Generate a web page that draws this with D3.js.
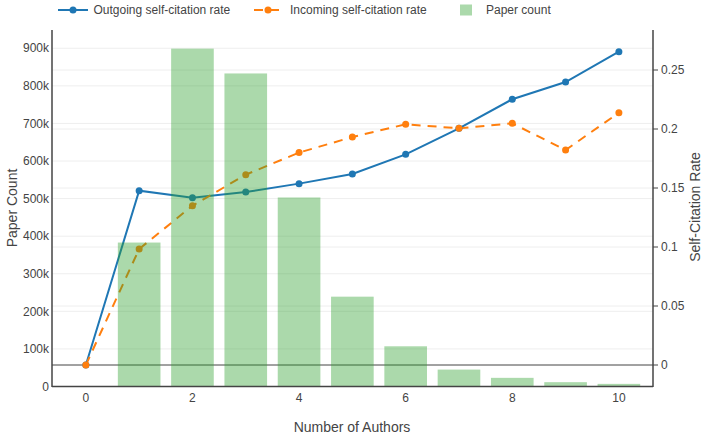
<!DOCTYPE html>
<html>
<head>
<meta charset="utf-8">
<script src="https://cdn.jsdelivr.net/npm/d3@7"></script>
<style>
  body { margin: 0; background: #fff; }
  svg { display: block; font-family: "Liberation Sans", Arial, sans-serif; }
</style>
</head>
<body>
<svg id="chart" width="702" height="439"></svg>
<script>
const authors = [0, 1, 2, 3, 4, 5, 6, 7, 8, 9, 10];
const paperCount = [0, 383000, 899000, 833000, 503000, 239000, 107000, 45000, 23000, 11500, 7000];
const outgoingRate = [0, 0.1477, 0.1418, 0.1466, 0.1537, 0.1619, 0.1785, 0.2006, 0.2252, 0.2398, 0.2655];
const incomingRate = [0, 0.0983, 0.135, 0.1613, 0.180, 0.1932, 0.204, 0.2006, 0.2048, 0.1822, 0.2138];
const xTicks = [0, 2, 4, 6, 8, 10];
const leftTicks = [0, 100000, 200000, 300000, 400000, 500000, 600000, 700000, 800000, 900000];
const leftTickLabels = ["0", "100k", "200k", "300k", "400k", "500k", "600k", "700k", "800k", "900k"];
const rightTicks = [0, 0.05, 0.1, 0.15, 0.2, 0.25];
const rightTickLabels = ["0", "0.05", "0.1", "0.15", "0.2", "0.25"];
const seriesNames = ["Outgoing self-citation rate", "Incoming self-citation rate", "Paper count"];

const svg = d3.select("#chart");
const L = 52, R = 653, T = 30, B = 386.5;
const textColor = "#444";

const x = d3.scaleLinear().domain([-0.635, 10.64]).range([L, R]);
const yL = d3.scaleLinear().domain([0, 948600]).range([B, T]);
const yR = d3.scaleLinear().domain([-0.01822, 0.2839]).range([B, T]);

// gridlines
const grid = svg.append("g");
grid.selectAll("line.gl").data(leftTicks.slice(1)).enter().append("line")
  .attr("x1", L).attr("x2", R)
  .attr("y1", d => yL(d)).attr("y2", d => yL(d))
  .attr("stroke", "#eee").attr("stroke-width", 1);
grid.selectAll("line.gr").data(rightTicks.slice(1)).enter().append("line")
  .attr("x1", L).attr("x2", R)
  .attr("y1", d => yR(d)).attr("y2", d => yR(d))
  .attr("stroke", "#eee").attr("stroke-width", 1);
// zero line of right axis
svg.append("line").attr("x1", L).attr("x2", R)
  .attr("y1", yR(0)).attr("y2", yR(0))
  .attr("stroke", "#444").attr("stroke-width", 1);

// lines
const lineOut = d3.line().x((d, i) => x(authors[i])).y(d => yR(d));
svg.append("path").datum(outgoingRate).attr("d", lineOut)
  .attr("fill", "none").attr("stroke", "#1f77b4").attr("stroke-width", 2);
svg.append("path").datum(incomingRate).attr("d", lineOut)
  .attr("fill", "none").attr("stroke", "#ff7f0e").attr("stroke-width", 2)
  .attr("stroke-dasharray", "9,7");
svg.append("g").selectAll("circle").data(outgoingRate).enter().append("circle")
  .attr("cx", (d, i) => x(authors[i])).attr("cy", d => yR(d)).attr("r", 3.5)
  .attr("fill", "#1f77b4");
svg.append("g").selectAll("circle").data(incomingRate).enter().append("circle")
  .attr("cx", (d, i) => x(authors[i])).attr("cy", d => yR(d)).attr("r", 3.5)
  .attr("fill", "#ff7f0e");

// bars (on top, translucent)
const bw = x(0.8) - x(0);
svg.append("g").selectAll("rect").data(paperCount).enter().append("rect")
  .attr("x", (d, i) => x(authors[i]) - bw / 2)
  .attr("width", bw)
  .attr("y", d => yL(d))
  .attr("height", d => B - yL(d))
  .attr("fill", "rgb(44,160,44)").attr("fill-opacity", 0.4);

// axes lines
svg.append("line").attr("x1", L).attr("x2", L).attr("y1", T).attr("y2", B + 0.5)
  .attr("stroke", "#444").attr("stroke-width", 1.5);
svg.append("line").attr("x1", R).attr("x2", R).attr("y1", T).attr("y2", B + 0.5)
  .attr("stroke", "#444").attr("stroke-width", 1.5);
svg.append("line").attr("x1", L).attr("x2", R).attr("y1", B).attr("y2", B)
  .attr("stroke", "#444").attr("stroke-width", 1.5);

// x tick labels
svg.append("g").selectAll("text").data(xTicks).enter().append("text")
  .attr("x", d => x(d)).attr("y", 402)
  .attr("text-anchor", "middle").attr("font-size", 12).attr("fill", textColor)
  .text(d => d);

// left tick labels
svg.append("g").selectAll("text").data(leftTicks).enter().append("text")
  .attr("x", 49).attr("y", d => yL(d) + 4.2)
  .attr("text-anchor", "end").attr("font-size", 12).attr("fill", textColor)
  .text((d, i) => leftTickLabels[i]);

// right ticks and labels
svg.append("g").selectAll("line").data(rightTicks).enter().append("line")
  .attr("x1", R).attr("x2", R + 5)
  .attr("y1", d => yR(d)).attr("y2", d => yR(d))
  .attr("stroke", "#444").attr("stroke-width", 1);
svg.append("g").selectAll("text").data(rightTicks).enter().append("text")
  .attr("x", 661).attr("y", d => yR(d) + 4.2)
  .attr("text-anchor", "start").attr("font-size", 12).attr("fill", textColor)
  .text((d, i) => rightTickLabels[i]);

// axis titles
svg.append("text").attr("x", 352).attr("y", 432)
  .attr("text-anchor", "middle").attr("font-size", 14).attr("fill", textColor)
  .text("Number of Authors");
svg.append("text").attr("transform", "translate(17,208) rotate(-90)")
  .attr("text-anchor", "middle").attr("font-size", 14).attr("fill", textColor)
  .text("Paper Count");
svg.append("text").attr("transform", "translate(700,207) rotate(-90)")
  .attr("text-anchor", "middle").attr("font-size", 14).attr("fill", textColor)
  .text("Self-Citation Rate");

// legend
const lg = svg.append("g");
const ly = 10;
lg.append("line").attr("x1", 58).attr("x2", 88).attr("y1", ly).attr("y2", ly)
  .attr("stroke", "#1f77b4").attr("stroke-width", 2);
lg.append("circle").attr("cx", 73).attr("cy", ly).attr("r", 3.5).attr("fill", "#1f77b4");
lg.append("text").attr("x", 93.5).attr("y", ly + 4.3).attr("font-size", 12).attr("fill", textColor)
  .text(seriesNames[0]);
lg.append("line").attr("x1", 254).attr("x2", 282).attr("y1", ly).attr("y2", ly)
  .attr("stroke", "#ff7f0e").attr("stroke-width", 2).attr("stroke-dasharray", "9,7");
lg.append("circle").attr("cx", 268).attr("cy", ly).attr("r", 3.5).attr("fill", "#ff7f0e");
lg.append("text").attr("x", 290).attr("y", ly + 4.3).attr("font-size", 12).attr("fill", textColor)
  .text(seriesNames[1]);
lg.append("rect").attr("x", 460).attr("y", ly - 5.5).attr("width", 12).attr("height", 11)
  .attr("fill", "rgb(44,160,44)").attr("fill-opacity", 0.4);
lg.append("text").attr("x", 486).attr("y", ly + 4.3).attr("font-size", 12).attr("fill", textColor)
  .text(seriesNames[2]);
</script>
</body>
</html>
